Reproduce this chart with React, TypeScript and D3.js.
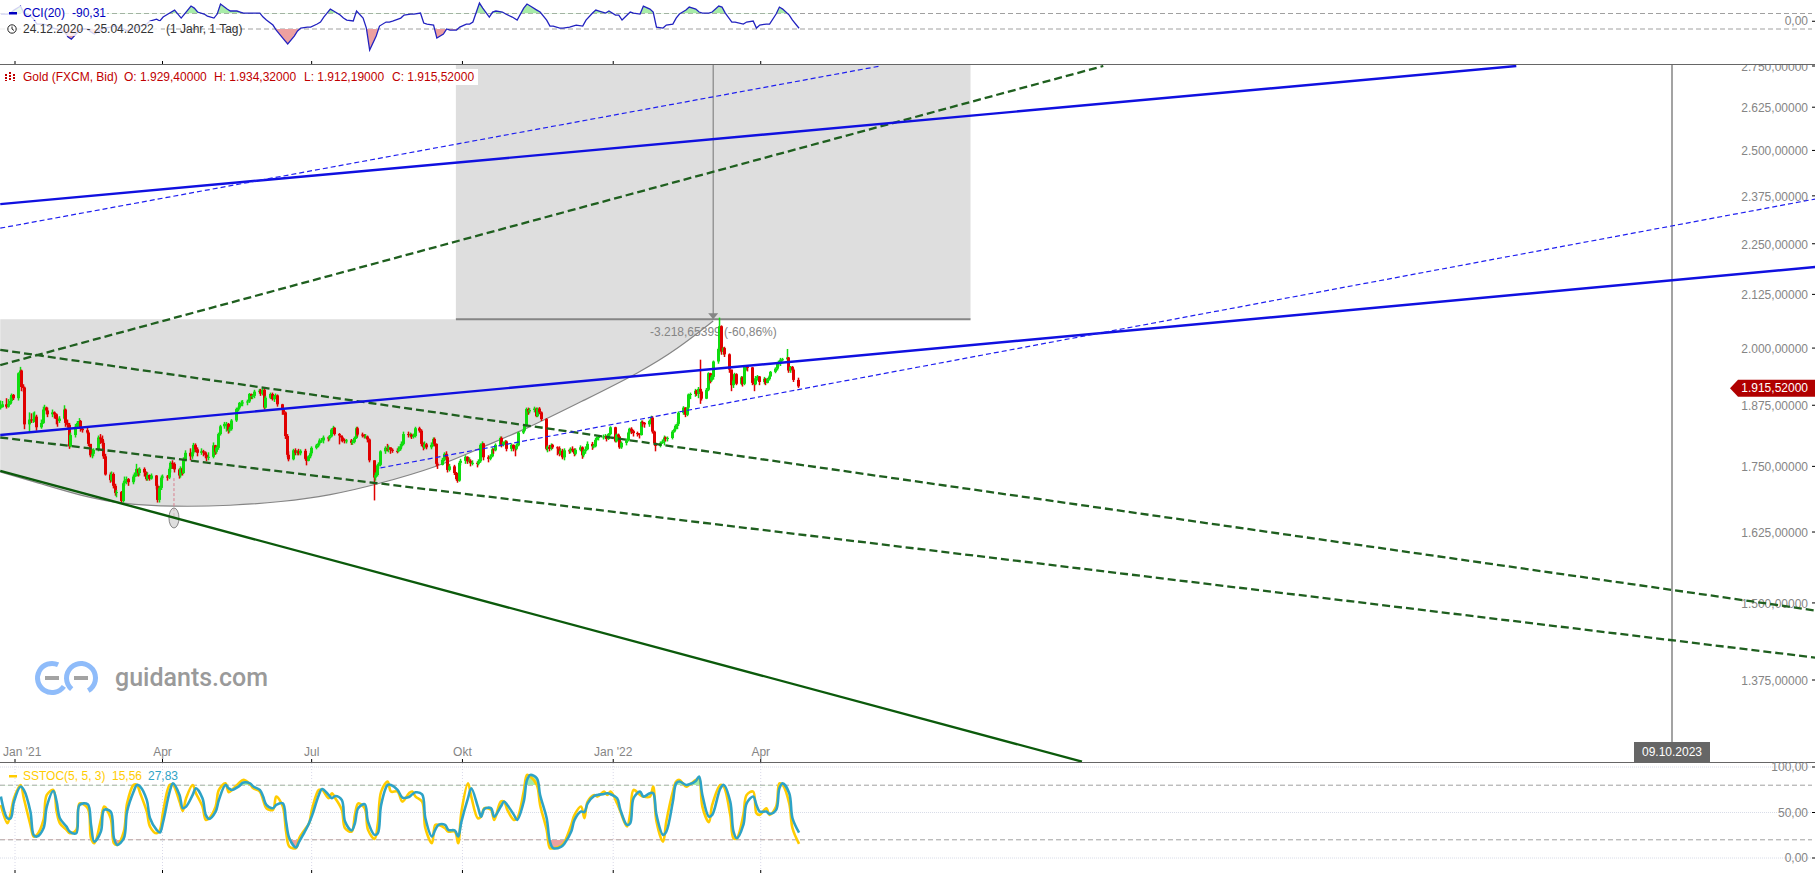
import React from 'react';
import * as d3 from 'd3';

const WIDTH = 1815;
const HEIGHT = 873;

// one row per week, Mon-Fri, first row is 24./25.12.2020, last row is 25.04.2022
const closes = [
  1871, 1877,
  1872, 1878, 1884, 1897, 1890,
  1944, 1950, 1914, 1913, 1835,
  1845, 1844, 1846, 1851, 1829,
  1838, 1866, 1870, 1864, 1856,
  1860, 1856, 1846, 1842, 1847,
  1866, 1838, 1834, 1790, 1813,
  1830, 1838, 1842, 1826, 1823,
  1818, 1795, 1772, 1775, 1783,
  1808, 1805, 1797, 1770, 1734,
  1723, 1735, 1712, 1698, 1700,
  1683, 1717, 1722, 1725, 1719,
  1730, 1731, 1745, 1737, 1745,
  1738, 1725, 1733, 1726, 1732,
  1712, 1685, 1708, 1728, 1730,
  1728, 1745, 1757, 1755, 1744,
  1732, 1746, 1737, 1764, 1777,
  1770, 1778, 1793, 1784, 1777,
  1780, 1778, 1773, 1768, 1769,
  1792, 1779, 1787, 1815, 1831,
  1836, 1836, 1822, 1825, 1843,
  1867, 1870, 1880, 1880, 1881,
  1883, 1899, 1895, 1895, 1904,
  1906, 1900, 1908, 1870, 1891,
  1899, 1888, 1895, 1896, 1877,
  1866, 1860, 1811, 1773, 1764,
  1782, 1777, 1780, 1776, 1781,
  1765, 1761, 1770, 1776, 1787,
  1792, 1796, 1802, 1802, 1808,
  1806, 1810, 1824, 1828, 1815,
  1812, 1808, 1803, 1802, 1802,
  1797, 1799, 1807, 1827, 1814,
  1813, 1810, 1810, 1804, 1762,
  1728, 1733, 1752, 1753, 1780,
  1787, 1785, 1788, 1783, 1781,
  1780, 1784, 1790, 1795, 1815,
  1813, 1814, 1810, 1811, 1827,
  1822, 1795, 1788, 1794, 1788,
  1793, 1805, 1795, 1755, 1753,
  1763, 1775, 1768, 1743, 1750,
  1737, 1725, 1722, 1757, 1761,
  1769, 1760, 1761, 1757, 1757,
  1755, 1760, 1793, 1796, 1768,
  1765, 1770, 1784, 1782, 1793,
  1807, 1793, 1799, 1800, 1785,
  1793, 1786, 1785, 1792, 1818,
  1822, 1833, 1867, 1862, 1865,
  1868, 1852, 1868, 1860, 1846,
  1785, 1789, 1785, 1793, 1788,
  1786, 1775, 1781, 1768, 1782,
  1780, 1785, 1783, 1775, 1783,
  1788, 1772, 1780, 1784, 1795,
  1790, 1790, 1803, 1807, 1809,
  1810, 1811, 1805, 1815, 1829,
  1800, 1814, 1810, 1788, 1797,
  1802, 1818, 1826, 1821, 1817,
  1816, 1813, 1840, 1838, 1835,
  1842, 1849, 1820, 1796, 1791,
  1797, 1800, 1808, 1805, 1807,
  1820, 1825, 1832, 1836, 1859,
  1870, 1855, 1870, 1898, 1899,
  1906, 1899, 1910, 1904, 1889,
  1908, 1944, 1928, 1936, 1970,
  1998, 2050, 1992, 2000, 1986,
  1952, 1918, 1928, 1942, 1921,
  1935, 1921, 1958, 1958, 1957,
  1923, 1920, 1933, 1937, 1925,
  1932, 1923, 1931, 1937, 1947,
  1954, 1966, 1966, 1974, 1975,
  1979, 1950, 1958, 1952, 1929.4,
  1915.52,
];

const highs = [
  1885, 1884,
  1890, 1888, 1892, 1900, 1899,
  1946, 1958, 1952, 1920, 1915,
  1860, 1858, 1860, 1862, 1855,
  1845, 1872, 1876, 1872, 1870,
  1866, 1862, 1858, 1850, 1852,
  1875, 1868, 1845, 1838, 1818,
  1836, 1842, 1848, 1844, 1830,
  1828, 1820, 1795, 1785, 1786,
  1812, 1815, 1812, 1802, 1775,
  1738, 1740, 1738, 1716, 1704,
  1702, 1720, 1730, 1730, 1727,
  1734, 1738, 1755, 1746, 1748,
  1748, 1740, 1738, 1734, 1736,
  1733, 1715, 1712, 1732, 1734,
  1733, 1748, 1760, 1762, 1758,
  1746, 1750, 1748, 1768, 1782,
  1786, 1782, 1797, 1796, 1788,
  1786, 1783, 1780, 1775, 1778,
  1798, 1793, 1790, 1818, 1834,
  1840, 1840, 1838, 1830, 1846,
  1870, 1873, 1882, 1885, 1886,
  1887, 1901, 1900, 1898, 1908,
  1910, 1910, 1912, 1910, 1895,
  1902, 1902, 1897, 1900, 1898,
  1878, 1868, 1862, 1815, 1780,
  1785, 1786, 1782, 1785, 1784,
  1785, 1768, 1772, 1780, 1790,
  1795, 1798, 1806, 1807, 1812,
  1810, 1813, 1827, 1832, 1829,
  1817, 1812, 1810, 1806, 1805,
  1805, 1803, 1810, 1830, 1830,
  1818, 1815, 1815, 1812, 1806,
  1762, 1738, 1755, 1758, 1782,
  1790, 1795, 1792, 1788, 1786,
  1786, 1790, 1795, 1800, 1820,
  1820, 1818, 1816, 1816, 1830,
  1830, 1825, 1798, 1800, 1797,
  1798, 1808, 1808, 1796, 1758,
  1767, 1778, 1780, 1770, 1755,
  1753, 1739, 1730, 1760, 1765,
  1772, 1770, 1768, 1764, 1762,
  1760, 1764, 1796, 1800, 1797,
  1772, 1774, 1788, 1786, 1796,
  1810, 1810, 1800, 1803, 1802,
  1796, 1794, 1790, 1796, 1820,
  1826, 1836, 1870, 1870, 1869,
  1872, 1870, 1870, 1871, 1862,
  1848, 1792, 1793, 1796, 1795,
  1790, 1790, 1785, 1785, 1786,
  1785, 1788, 1790, 1786, 1786,
  1792, 1790, 1784, 1790, 1800,
  1799, 1794, 1806, 1810, 1812,
  1814, 1815, 1812, 1817, 1831,
  1830, 1816, 1816, 1811, 1800,
  1806, 1820, 1828, 1829, 1824,
  1820, 1817, 1843, 1843, 1840,
  1845, 1853, 1852, 1822, 1798,
  1800, 1804, 1812, 1810, 1810,
  1823, 1828, 1835, 1840, 1862,
  1873, 1871, 1872, 1900, 1902,
  1910, 1908, 1914, 1974, 1906,
  1912, 1946, 1945, 1940, 1972,
  2001, 2070, 2052, 2002, 2003,
  1988, 1952, 1932, 1945, 1944,
  1938, 1937, 1960, 1962, 1962,
  1958, 1925, 1938, 1940, 1938,
  1936, 1933, 1934, 1940, 1949,
  1957, 1968, 1972, 1978, 1978,
  1998, 1980, 1960, 1960, 1955,
  1934.32,
];

const lows = [
  1866, 1870,
  1868, 1870, 1876, 1880, 1886,
  1885, 1940, 1905, 1903, 1825,
  1818, 1838, 1838, 1840, 1822,
  1826, 1836, 1862, 1856, 1850,
  1850, 1847, 1835, 1830, 1838,
  1845, 1830, 1828, 1785, 1788,
  1808, 1826, 1832, 1820, 1818,
  1815, 1790, 1768, 1766, 1770,
  1780, 1795, 1790, 1765, 1732,
  1718, 1720, 1707, 1693, 1690,
  1680, 1680, 1712, 1715, 1712,
  1715, 1722, 1730, 1730, 1732,
  1730, 1722, 1722, 1722, 1724,
  1705, 1680, 1680, 1704, 1724,
  1722, 1725, 1738, 1745, 1738,
  1726, 1728, 1732, 1735, 1760,
  1762, 1765, 1775, 1778, 1770,
  1773, 1770, 1766, 1760, 1762,
  1766, 1773, 1775, 1783, 1812,
  1826, 1820, 1816, 1818, 1822,
  1840, 1862, 1866, 1873, 1873,
  1875, 1880, 1888, 1888, 1890,
  1900, 1895, 1896, 1866, 1868,
  1888, 1885, 1882, 1888, 1872,
  1855, 1855, 1805, 1768, 1760,
  1762, 1772, 1772, 1772, 1772,
  1762, 1752, 1760, 1766, 1772,
  1784, 1788, 1792, 1797, 1796,
  1800, 1802, 1808, 1822, 1812,
  1794, 1800, 1798, 1796, 1796,
  1793, 1793, 1796, 1805, 1810,
  1808, 1806, 1806, 1798, 1758,
  1684, 1722, 1730, 1745, 1750,
  1775, 1780, 1778, 1775, 1777,
  1776, 1778, 1781, 1786, 1792,
  1808, 1808, 1805, 1806, 1808,
  1818, 1790, 1782, 1785, 1784,
  1784, 1790, 1790, 1750, 1745,
  1752, 1760, 1762, 1738, 1740,
  1733, 1722, 1718, 1720, 1752,
  1755, 1755, 1756, 1750, 1752,
  1748, 1752, 1757, 1790, 1762,
  1758, 1762, 1768, 1775, 1780,
  1790, 1788, 1790, 1796, 1780,
  1780, 1780, 1770, 1782, 1790,
  1815, 1820, 1830, 1855, 1858,
  1860, 1850, 1850, 1856, 1842,
  1782, 1778, 1780, 1782, 1785,
  1772, 1770, 1772, 1764, 1762,
  1775, 1776, 1778, 1770, 1772,
  1780, 1765, 1768, 1775, 1782,
  1783, 1786, 1788, 1800, 1802,
  1804, 1805, 1800, 1803, 1812,
  1798, 1798, 1806, 1785, 1785,
  1792, 1800, 1815, 1815, 1810,
  1810, 1806, 1812, 1830, 1828,
  1830, 1840, 1816, 1792, 1780,
  1788, 1795, 1792, 1800, 1800,
  1804, 1818, 1822, 1825, 1832,
  1855, 1850, 1852, 1866, 1888,
  1893, 1895, 1890, 1878, 1885,
  1888, 1905, 1922, 1925, 1930,
  1965, 1988, 1985, 1985, 1980,
  1945, 1905, 1912, 1925, 1918,
  1918, 1915, 1918, 1950, 1948,
  1918, 1905, 1918, 1928, 1918,
  1920, 1918, 1922, 1928, 1936,
  1944, 1950, 1958, 1960, 1970,
  1972, 1945, 1945, 1945, 1925,
  1912.19,
];

// read about every second trading day
const cciValues = [
  93, 93, 106, 144, 196, 106, 67, 28, -36, -36, -49, -88, -100, -139, -204, -230, -139, -100, -100, -139,
  -165, -114, -88, -75, -62, -75, -100, -126, -100, -75, -62, -36, 3, 28, 3, 54, 106, 144, 41, 93,
  196, 170, 119, 93, 67, 41, 93, 222, 157, 132, 132, 119, 106, 106, 106, 106, 54, 15, -49, -114,
  -217, -294, -191, -126, -88, -75, -75, -36, -10, 54, 157, 132, 80, 41, 15, 3, 132, 41, -88, -372,
  -191, -62, -10, -10, 3, 41, 80, 93, 93, 106, -23, -36, -49, -217, -165, -100, -114, -114, -75, -36,
  -36, -10, 235, 170, 54, 119, 132, 119, 93, 54, 15, 170, 222, 196, 144, 119, 15, -62, -62, -88,
  -88, -75, -62, -49, -62, 15, 106, 144, 132, 106, 132, 80, 80, 15, 119, 106, 93, 196, 157, 119,
  -75, -88, -49, -36, 41, 93, 144, 183, 157, 119, 106, 106, 119, 196, 183, 106, -10, -10, -36, -10,
  3, -88, -49, -36, -36, 93, 183, 157, 80, 15, -90.31,
];

const stochFast = [
  58.3, 38.2, 49.2, 65.7, 80.3, 65.7, 36.4, 23.6, 25.4, 41.9, 69.3, 74.8, 51, 38.2, 30.9, 27.2, 30.9, 60, 54.7, 21.7,
  16.2, 41.9, 56.5, 43.7, 16.2, 14.4, 29, 60, 80.3, 80.3, 71.2, 51, 34.6, 27.2, 30.9, 51, 80.3, 80.3, 62, 51.8,
  65.7, 80.3, 71.2, 56.5, 41.9, 43.7, 56.5, 74.8, 82, 72.2, 74.8, 82, 85.8, 81, 76.6, 73, 63.8, 54.7, 52.9, 67.5,
  56.5, 29, 12.6, 10.8, 21.7, 32.7, 38.2, 54.7, 74.8, 74.8, 65.7, 71.2, 65.7, 52.9, 32.7, 29, 47.4, 60, 54.7, 30.9,
  21, 38.2, 73, 84, 73, 73, 62, 71.2, 73, 67.5,
  62, 32.7, 16.2, 36.4, 36.4, 32.7, 29, 29, 16.2, 51, 82, 67.5, 43.7, 45.5, 54.7, 52.9, 41.9, 62, 62, 52.9,
  41.9, 43.7, 73, 91.3, 89.5, 80.3, 58.3, 30.9, 10.8, 10.8, 13.7, 18, 36.4, 47.4, 56.5, 43.7, 62, 69.3, 67.5, 73,
  69.3, 73, 60, 51, 34.6, 49.2, 74.8, 69.3, 67.5, 67.5, 78.5, 40, 18, 40, 73, 84, 85.8, 78.5, 80.3, 85.8,
  87.6, 56.5, 39.3, 58.3, 80.3, 78.5, 47.4, 21.7, 21.7, 47.4, 69.3, 73, 49.2, 47.4, 54.7, 47.4, 56.5, 82, 80.3, 60,
  32.7, 15.56,
];

const stochSlow = [
  67.5, 43.7, 43.7, 62, 78.5, 74.8, 51, 25.4, 23.6, 32.7, 56.5, 73.7, 62, 43.7, 34.6, 29, 27.2, 58.3, 59, 36.4,
  18, 29, 52.9, 51, 21.7, 14.4, 21.7, 51, 73, 80.3, 78.5, 63.8, 43.7, 30.9, 28, 40, 73, 82, 69.3, 54.7,
  56.5, 69.3, 76.6, 65.7, 47.4, 43, 51, 63.8, 80.3, 76.6, 74.8, 78.5, 82.9, 82, 78.5, 74.8, 67.5, 58.3, 54.7, 58.3,
  60, 40, 21.7, 11.5, 18, 30.9, 38.2, 47.4, 69.3, 75.9, 69.3, 65.7, 68.2, 63.8, 40, 30.2, 38.2, 54.7, 59, 40,
  25.4, 27.2, 58.3, 80.3, 80.3, 74.8, 66.4, 67.1, 70, 72.2,
  70, 43.7, 23.6, 30.9, 36.4, 36.4, 30.9, 30.2, 23.6, 40, 65.7, 76.6, 56.5, 45.5, 54, 54.7, 45.5, 56.5, 62, 58.3,
  47.4, 41.9, 62, 85.8, 91.3, 87.6, 69.3, 43.7, 18, 10.8, 12.6, 16.2, 29, 41.9, 51, 50.3, 60, 68.2, 69.3, 70.4,
  71.2, 70, 65.7, 52.9, 36.4, 38.2, 65.7, 73, 67.5, 71.2, 71.2, 47.4, 25.4, 29, 62, 82, 84, 80.3, 81, 84.7,
  89.5, 69.3, 45.5, 47.4, 76.6, 80.3, 62, 29, 21.7, 36.4, 60, 67.5, 58.3, 51, 51, 48.5, 52.9, 76.6, 82, 71.2,
  43.7, 27.83,
];

const priceTicks = [2750, 2625, 2500, 2375, 2250, 2125, 2000, 1875, 1750, 1625, 1500, 1375];
const stochTicks = [100, 50, 0];
const monthTicks = ['2021-01-01', '2021-04-01', '2021-07-01', '2021-10-01', '2022-01-01', '2022-04-01'];
const monthLabels = ["Jan '21", 'Apr', 'Jul', 'Okt', "Jan '22", 'Apr'];

// drawing tools: [date, price] pairs
const solidBlueUpper: [string, number][] = [['2020-12-23', 2353], ['2023-07-06', 2750]];
const solidBlueLower: [string, number][] = [['2020-12-23', 1813], ['2024-01-05', 2192]];
const thinBlueUpper: [string, number][] = [['2020-12-23', 2290], ['2022-06-13', 2750]];
const thinBlueLower: [string, number][] = [['2021-08-12', 1747], ['2024-01-05', 2367]];
const dashGreenRising: [string, number][] = [['2020-12-23', 1962], ['2022-10-27', 2750]];
const dashGreenUpper: [string, number][] = [['2020-12-23', 1996], ['2024-01-05', 1487]];
const dashGreenLower: [string, number][] = [['2020-12-23', 1808], ['2024-01-05', 1410]];
const solidGreenLower: [string, number][] = [['2020-12-23', 1741], ['2022-10-14', 1254]];

const arcPoints: [string, number][] = [
  ['2020-12-23', 1739], ['2021-01-17', 1716], ['2021-02-10', 1693], ['2021-03-07', 1677],
  ['2021-04-08', 1672], ['2021-05-13', 1674], ['2021-06-12', 1681], ['2021-07-13', 1694],
  ['2021-08-09', 1714], ['2021-09-16', 1749], ['2021-10-12', 1787], ['2021-11-10', 1827],
  ['2021-12-12', 1882], ['2022-01-18', 1947], ['2022-02-10', 2000], ['2022-03-03', 2062],
];
const boxTopPrice = 2066;
const boxStart = '2021-09-27';
const boxEnd = '2022-08-07';
const arrowDate = '2022-03-03';
const markerDate = '2021-04-08';
const markerPrice = 1651;
const markerTopPrice = 1727;
const cursorDate = '2023-10-09';
const lastPrice = 1915.52;

const parse = (s: string) => new Date(s + 'T00:00:00');
const fmtPrice = d3.formatLocale({ decimal: ',', thousands: '.', grouping: [3], currency: ['', ''] }).format(',.5f');
const fmtStoch = d3.formatLocale({ decimal: ',', thousands: '.', grouping: [3], currency: ['', ''] }).format('.2f');

const tradingDays = d3.timeDay
  .range(parse('2020-12-24'), parse('2022-04-26'))
  .filter(d => d.getDay() !== 0 && d.getDay() !== 6);

const x = d3.scaleTime().domain([parse('2021-01-01'), parse('2023-10-09')]).range([15, 1672]);
const y = d3.scaleLog().domain([2750, 1375]).range([66, 680]);
const yCci = d3.scaleLinear().domain([100, -100]).range([13.5, 29]);
const yStoch = d3.scaleLinear().domain([100, 0]).range([767, 858]);

const sampleDay = (i: number, m: number) => tradingDays[Math.round((i * (tradingDays.length - 1)) / (m - 1))];

const priceLine = d3.line<[string, number]>().x(d => x(parse(d[0]))).y(d => y(d[1]));
const arcLine = d3.line<[string, number]>().x(d => x(parse(d[0]))).y(d => y(d[1])).curve(d3.curveBasis);

const GREY = '#858585';
const FONT = '"Liberation Sans", Arial, sans-serif';

function AxisLabel({ yPos, text, dy = 4 }: { yPos: number; text: string; dy?: number }) {
  return (
    <g>
      <text x={1808} y={yPos + dy} textAnchor="end" fontSize={12} fill={GREY}>{text}</text>
      <line x1={1812} x2={1815} y1={yPos} y2={yPos} stroke="#000" />
    </g>
  );
}

const App: React.FC = () => {
  const arcArea = d3.area<[string, number]>()
    .x(d => x(parse(d[0])))
    .y0(y(boxTopPrice))
    .y1(d => y(d[1]))
    .curve(d3.curveBasis);

  const cciPts = cciValues.map((v, i) => [x(sampleDay(i, cciValues.length)) - 1, yCci(v)] as [number, number]);
  const cciLine = d3.line();
  const cciUp = d3.area().y0(yCci(100)).y1(d => d[1]);
  const cciDown = d3.area().y0(yCci(-100)).y1(d => d[1]);

  const fastPts = stochFast.map((v, i) => [x(sampleDay(i, stochFast.length)) - 1, yStoch(v)] as [number, number]);
  const slowPts = stochSlow.map((v, i) => [x(sampleDay(i, stochSlow.length)) - 1, yStoch(v)] as [number, number]);
  const stochLine = d3.line().curve(d3.curveCatmullRom);
  const stochUp = d3.area().y0(yStoch(80)).y1(d => d[1]).curve(d3.curveCatmullRom);
  const stochDown = d3.area().y0(yStoch(20)).y1(d => d[1]).curve(d3.curveCatmullRom);

  const tagY = y(lastPrice) + 2;
  const ring = d3.arc();

  return (
    <svg
      width={WIDTH}
      height={HEIGHT}
      fontFamily={FONT}
      style={{ position: 'fixed', left: 0, top: 0, background: '#fff', display: 'block' }}
    >
      <defs>
        <clipPath id="price-clip"><rect x={0} y={65} width={WIDTH} height={697} /></clipPath>
        <clipPath id="cci-up"><rect x={0} y={0} width={WIDTH} height={yCci(100)} /></clipPath>
        <clipPath id="cci-down"><rect x={0} y={yCci(-100)} width={WIDTH} height={40} /></clipPath>
        <clipPath id="st-up"><rect x={0} y={762} width={WIDTH} height={yStoch(80) - 762} /></clipPath>
        <clipPath id="st-down"><rect x={0} y={yStoch(20)} width={WIDTH} height={30} /></clipPath>
      </defs>

      {/* CCI panel */}
      {[100, -100].map(v => (
        <line key={v} x1={0} x2={1812} y1={yCci(v)} y2={yCci(v)} stroke="#a0a0a0" strokeDasharray="5,3" />
      ))}
      <path d={cciUp(cciPts) || ''} fill="#a8eca8" clipPath="url(#cci-up)" />
      <path d={cciDown(cciPts) || ''} fill="#eda0a0" clipPath="url(#cci-down)" />
      <path d={cciLine(cciPts) || ''} fill="none" stroke="#2222c0" strokeWidth={1.3} />
      <rect x={0} y={6} width={107} height={14} fill="#fff" opacity={0.8} />
      <rect x={0} y={21} width={161} height={15} fill="#fff" opacity={0.8} />
      <rect x={9} y={12} width={8} height={2.5} fill="#0000c0" />
      <text x={23} y={17} fontSize={12} fill="#0000c0">CCI(20)</text>
      <text x={72} y={17} fontSize={12} fill="#0000c0">-90,31</text>
      <circle cx={12} cy={29} r={4.2} fill="none" stroke="#222" />
      <path d="M12 26.5V29L14 30.5" fill="none" stroke="#222" />
      <text x={23} y={33} fontSize={12} fill="#333">24.12.2020 - 25.04.2022</text>
      <text x={166} y={33} fontSize={12} fill="#333">(1 Jahr, 1 Tag)</text>
      <AxisLabel yPos={yCci(0)} text="0,00" />
      <line x1={0} x2={WIDTH} y1={64.5} y2={64.5} stroke="#666" />
      {monthTicks.map(t => (
        <line key={t} x1={x(parse(t))} x2={x(parse(t))} y1={61} y2={64} stroke="#000" />
      ))}

      {/* price panel */}
      <g clipPath="url(#price-clip)">
        <rect
          x={x(parse(boxStart))}
          y={0}
          width={x(parse(boxEnd)) - x(parse(boxStart))}
          height={y(boxTopPrice)}
          fill="#dedede"
        />
        <path d={arcArea(arcPoints) || ''} fill="#dedede" />
        <path d={arcLine(arcPoints) || ''} fill="none" stroke={GREY} strokeWidth={1.2} />
        <line
          x1={x(parse(boxStart))}
          x2={x(parse(boxEnd))}
          y1={y(boxTopPrice)}
          y2={y(boxTopPrice)}
          stroke={GREY}
          strokeWidth={2}
        />
        <line
          x1={x(parse(arrowDate))}
          x2={x(parse(arrowDate))}
          y1={64}
          y2={y(boxTopPrice)}
          stroke={GREY}
          strokeWidth={1.2}
        />
        <path
          d={`M${x(parse(arrowDate)) - 5} ${y(boxTopPrice) - 6}h10l-5 6z`}
          fill={GREY}
        />
        <text x={650} y={336} fontSize={12} fill={GREY}>-3.218,65399 (-60,86%)</text>

        {priceTicks.map(p => <AxisLabel key={p} yPos={y(p)} text={fmtPrice(p)} dy={5} />)}

        <line
          x1={x(parse(cursorDate))}
          x2={x(parse(cursorDate))}
          y1={64}
          y2={762}
          stroke={GREY}
          strokeWidth={1.5}
        />

        {/* logo */}
        <g transform="translate(52,678)">
          <path
            d={ring({ innerRadius: 12, outerRadius: 17, startAngle: (-235 * Math.PI) / 180, endAngle: (25 * Math.PI) / 180 }) || ''}
            fill="#8fbcfa"
          />
          <rect x={-7} y={-2} width={14} height={4} fill="#a3a3a3" />
        </g>
        <g transform="translate(81,678)">
          <path
            d={ring({ innerRadius: 12, outerRadius: 17, startAngle: (-140 * Math.PI) / 180, endAngle: (150 * Math.PI) / 180 }) || ''}
            fill="#8fbcfa"
          />
          <rect x={-7} y={-2} width={14} height={4} fill="#a3a3a3" />
        </g>
        <text x={115} y={686} fontFamily="Roboto" fontWeight={500} fontSize={25} fill="#9a9a9a">guidants.com</text>

        {/* candles */}
        {closes.map((c, i) => {
          const o = i > 0 ? closes[i - 1] : c;
          const cx = Math.round(x(tradingDays[i])) - 2;
          const up = c >= o;
          const color = up ? '#10dc10' : '#e00000';
          const top = Math.min(y(o), y(c));
          return (
            <g key={i}>
              <rect x={cx - 0.25} y={y(highs[i])} width={1.5} height={y(lows[i]) - y(highs[i])} fill={color} />
              <rect x={cx - 1} y={top} width={3} height={Math.max(1, Math.abs(y(o) - y(c)))} fill={color} />
            </g>
          );
        })}

        {/* marker on the low */}
        <line
          x1={x(parse(markerDate))}
          x2={x(parse(markerDate))}
          y1={y(markerTopPrice)}
          y2={y(markerPrice)}
          stroke="#d9808f"
          strokeDasharray="3,2"
        />
        <ellipse cx={x(parse(markerDate))} cy={y(markerPrice)} rx={5} ry={10} fill="#d0d0d0" fillOpacity={0.7} stroke={GREY} />

        {/* trend lines */}
        <path d={priceLine(solidGreenLower) || ''} fill="none" stroke="#0b5a0b" strokeWidth={2.4} />
        <path d={priceLine(dashGreenRising) || ''} fill="none" stroke="#1f5f1f" strokeWidth={2.3} strokeDasharray="8,4" />
        <path d={priceLine(dashGreenUpper) || ''} fill="none" stroke="#1f5f1f" strokeWidth={2.3} strokeDasharray="8,4" />
        <path d={priceLine(dashGreenLower) || ''} fill="none" stroke="#1f5f1f" strokeWidth={2.3} strokeDasharray="8,4" />
        <path d={priceLine(solidBlueUpper) || ''} fill="none" stroke="#1010e0" strokeWidth={2.4} />
        <path d={priceLine(solidBlueLower) || ''} fill="none" stroke="#1010e0" strokeWidth={2.4} />
        <path d={priceLine(thinBlueUpper) || ''} fill="none" stroke="#2020f0" strokeWidth={1.2} strokeDasharray="5,3" />
        <path d={priceLine(thinBlueLower) || ''} fill="none" stroke="#2020f0" strokeWidth={1.2} strokeDasharray="5,3" />

        {/* legend */}
        <rect x={0} y={69} width={478} height={16} fill="#fff" />
        <path d="M6 74v7M10 72v9M14 74v7" stroke="#c00000" strokeWidth={2} strokeDasharray="2,1" />
        <text x={23} y={81} fontSize={12} fill="#c00000">Gold (FXCM, Bid)</text>
        <text x={124} y={81} fontSize={12} fill="#c00000">O: 1.929,40000</text>
        <text x={214} y={81} fontSize={12} fill="#c00000">H: 1.934,32000</text>
        <text x={304} y={81} fontSize={12} fill="#c00000">L: 1.912,19000</text>
        <text x={392} y={81} fontSize={12} fill="#c00000">C: 1.915,52000</text>

        {/* last price tag */}
        <path d={`M1730 ${tagY}l8 -8.5H1815V${tagY + 8.5}H1738z`} fill="#b00000" />
        <text x={1808} y={tagY + 4} textAnchor="end" fontSize={12} fill="#fff">{fmtPrice(lastPrice)}</text>

        {/* date cursor */}
        <rect x={1634} y={742} width={76} height={20} fill="#666" />
        <text x={1672} y={756} textAnchor="middle" fontSize={12} fill="#fff">09.10.2023</text>

        {monthTicks.map((t, i) => (
          <text
            key={t}
            x={i === 0 ? 3 : x(parse(t))}
            y={756}
            textAnchor={i === 0 ? 'start' : 'middle'}
            fontSize={12}
            fill={GREY}
          >
            {monthLabels[i]}
          </text>
        ))}
      </g>

      <line x1={0} x2={WIDTH} y1={762.5} y2={762.5} stroke="#666" />
      {monthTicks.map(t => (
        <g key={t}>
          <line x1={x(parse(t))} x2={x(parse(t))} y1={759} y2={762} stroke="#000" />
          <line x1={x(parse(t))} x2={x(parse(t))} y1={763} y2={870} stroke="#d8d8e8" strokeDasharray="1,2" />
          <line x1={x(parse(t))} x2={x(parse(t))} y1={870} y2={873} stroke="#000" />
        </g>
      ))}

      {/* slow stochastic panel */}
      {stochTicks.map(v => (
        <line key={v} x1={0} x2={1812} y1={yStoch(v)} y2={yStoch(v)} stroke="#d8dce8" strokeDasharray="1,1" />
      ))}
      {[80, 20].map(v => (
        <line key={v} x1={0} x2={1812} y1={yStoch(v)} y2={yStoch(v)} stroke="#a0a0a0" strokeDasharray="5,3" />
      ))}
      <path d={stochUp(slowPts) || ''} fill="#a8eca8" clipPath="url(#st-up)" />
      <path d={stochDown(slowPts) || ''} fill="#eda0a0" clipPath="url(#st-down)" />
      <path d={stochLine(fastPts) || ''} fill="none" stroke="#ffcc00" strokeWidth={2.6} />
      <path d={stochLine(slowPts) || ''} fill="none" stroke="#2ea3c6" strokeWidth={2.6} />
      <rect x={9} y={775} width={8} height={2.5} fill="#ffcc00" />
      <text x={23} y={780} fontSize={12} fill="#ffcc00">SSTOC(5, 5, 3)</text>
      <text x={112} y={780} fontSize={12} fill="#ffcc00">15,56</text>
      <text x={148} y={780} fontSize={12} fill="#2ea3c6">27,83</text>
      {stochTicks.map(v => <AxisLabel key={v} yPos={yStoch(v)} text={fmtStoch(v)} />)}
    </svg>
  );
};

export default App;
